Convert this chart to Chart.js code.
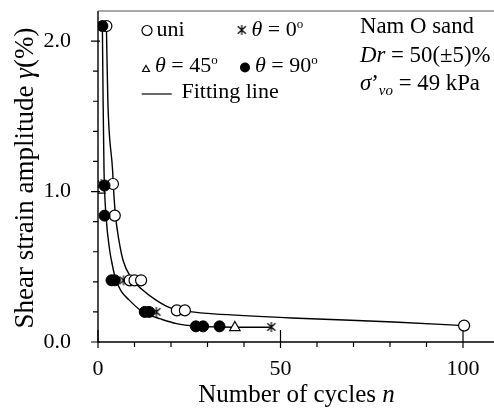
<!DOCTYPE html>
<html><head><meta charset="utf-8">
<script src="https://cdn.jsdelivr.net/npm/chart.js@4"></script>
<style>html,body{margin:0;padding:0;background:#fff}#wrap{width:494px;height:409px;position:relative}</style>
</head><body><div id="wrap"><canvas id="c" width="494" height="409"></canvas></div>
<script>
// ---- data ----
const uniN   = [2.3, 4.1, 4.6, 8.7, 10.0, 11.8, 21.6, 23.8, 100.3];
const uniG   = [2.10, 1.05, 0.84, 0.41, 0.41, 0.41, 0.21, 0.21, 0.109];
const th0N   = [0.9, 7.0, 16.0, 47.5];
const th0G   = [1.05, 0.41, 0.20, 0.10];
const th45N  = [0.5, 37.5];
const th45G  = [1.01, 0.096];
const th90N  = [1.2, 1.8, 1.8, 3.7, 4.6, 12.8, 14.0, 26.8, 28.8, 33.3];
const th90G  = [2.10, 1.04, 0.84, 0.41, 0.41, 0.20, 0.20, 0.104, 0.104, 0.104];
const fitUpN = [2.3, 2.7, 4.0, 4.3, 4.8, 5.7, 6.9, 9, 12, 16, 20, 24, 30, 53, 81, 100.3];
const fitUpG = [2.10, 1.6, 1.14, 1.0, 0.84, 0.68, 0.54, 0.43, 0.35, 0.277, 0.225, 0.205, 0.19, 0.16, 0.133, 0.109];
const fitLoN = [1.2, 1.4, 1.65, 2.2, 3.2, 3.7, 4.8, 6.3, 8.5, 11.4, 14, 16.9, 21.5, 27, 33, 47.5];
const fitLoG = [2.10, 1.6, 1.14, 0.84, 0.61, 0.54, 0.42, 0.34, 0.28, 0.215, 0.18, 0.155, 0.122, 0.105, 0.10, 0.098];
const xTickValues = [0, 10, 20, 30, 40, 50, 60, 70, 80, 90, 100];
const xMajorLabels = [0, 50, 100];
const yTickValues = [0, 0.2, 0.4, 0.6, 0.8, 1.0, 1.2, 1.4, 1.6, 1.8, 2.0];
const yMajorLabels = [0, 1, 2];

const pts = (xs, ys) => xs.map((x, i) => ({x, y: ys[i]}));
const FONT = '"Liberation Serif", "Times New Roman", serif';
const S = 22;
const ST = 25;

// asterisk marker
function makeStar(sz) {
  const c = document.createElement('canvas');
  c.width = sz; c.height = sz;
  const g = c.getContext('2d');
  g.strokeStyle = '#000'; g.lineWidth = 1.2;
  const m = sz / 2, r = sz / 2 - 1;
  g.beginPath();
  g.moveTo(m, m - r); g.lineTo(m, m + r);
  g.moveTo(m - r * 0.8, m - r * 0.75); g.lineTo(m + r * 0.8, m + r * 0.75);
  g.moveTo(m + r * 0.8, m - r * 0.75); g.lineTo(m - r * 0.8, m + r * 0.75);
  g.stroke();
  return c;
}
const starImg = makeStar(12);

function rich(ctx, x, y, segs, align, base) {
  const B = base || S;
  let total = 0;
  segs.forEach(s => { ctx.font = (s.i ? 'italic ' : '') + (s.s || B) + 'px ' + FONT; s.w = ctx.measureText(s.t).width; total += s.w; });
  let cx = align === 'center' ? x - total / 2 : x;
  ctx.textAlign = 'left'; ctx.textBaseline = 'alphabetic';
  segs.forEach(s => { ctx.font = (s.i ? 'italic ' : '') + (s.s || B) + 'px ' + FONT; ctx.fillText(s.t, cx, y + (s.dy || 0)); cx += s.w; });
}

const deco = {
  id: 'deco',
  afterDraw(chart) {
    const ctx = chart.ctx, ca = chart.chartArea;
    const xs = chart.scales.x, ys = chart.scales.y;
    const R = chart.width;
    ctx.save();
    ctx.fillStyle = '#000';
    // frame
    ctx.strokeStyle = '#000'; ctx.lineWidth = 1.4;
    ctx.beginPath();
    ctx.moveTo(ca.left, ca.top); ctx.lineTo(ca.left, ca.bottom); ctx.lineTo(R, ca.bottom);
    ctx.stroke();
    ctx.strokeStyle = '#555'; ctx.lineWidth = 1.2;
    ctx.beginPath(); ctx.moveTo(ca.left, ca.top); ctx.lineTo(R, ca.top); ctx.stroke();
    // ticks
    ctx.strokeStyle = '#000'; ctx.lineWidth = 1.2;
    ctx.beginPath();
    xs.ticks.forEach(t => {
      const v = t.value;
      const p = xs.getPixelForValue(v);
      if (Math.abs(v / 50 - Math.round(v / 50)) < 1e-6) { ctx.moveTo(p, ca.bottom - 12); ctx.lineTo(p, ca.bottom + 6); }
      else { ctx.moveTo(p, ca.bottom); ctx.lineTo(p, ca.bottom + 5); }
    });
    ys.ticks.forEach(t => {
      const v = t.value;
      const p = ys.getPixelForValue(v);
      if (Math.abs(v - Math.round(v)) < 1e-6) { ctx.moveTo(ca.left - 7, p); ctx.lineTo(ca.left + 2, p); }
      else { ctx.moveTo(ca.left - 5, p); ctx.lineTo(ca.left, p); }
    });
    ctx.stroke();
    // axis titles
    rich(ctx, 296.5, 401.5, [{t: 'Number of cycles '}, {t: 'n', i: true}], 'center', ST);
    ctx.save();
    ctx.translate(32.5, 178); ctx.rotate(-Math.PI / 2);
    rich(ctx, 0, 0, [{t: 'Shear strain amplitude '}, {t: 'γ', i: true}, {t: '(%)'}], 'center', 27);
    ctx.restore();
    // legend
    ctx.lineWidth = 1.2; ctx.strokeStyle = '#000';
    ctx.beginPath(); ctx.arc(147, 30.5, 5, 0, Math.PI * 2); ctx.fillStyle = '#fff'; ctx.fill(); ctx.stroke();
    ctx.fillStyle = '#000';
    rich(ctx, 156.5, 36, [{t: 'uni'}]);
    ctx.drawImage(starImg, 241.7 - 6, 30 - 6);
    rich(ctx, 251.5, 36, [{t: 'θ', i: true}, {t: ' = 0'}, {t: 'o', s: 13, dy: -8}]);
    ctx.beginPath(); ctx.moveTo(146, 65.5); ctx.lineTo(149.5, 71.5); ctx.lineTo(142.5, 71.5); ctx.closePath(); ctx.stroke();
    rich(ctx, 155, 72, [{t: 'θ', i: true}, {t: ' = 45'}, {t: 'o', s: 13, dy: -8}]);
    ctx.beginPath(); ctx.arc(245, 67.5, 5, 0, Math.PI * 2); ctx.fill();
    rich(ctx, 255, 72, [{t: 'θ', i: true}, {t: ' = 90'}, {t: 'o', s: 13, dy: -8}]);
    ctx.beginPath(); ctx.moveTo(141.7, 94); ctx.lineTo(171.7, 94); ctx.stroke();
    rich(ctx, 181.5, 98, [{t: 'Fitting line'}]);
    // annotation
    rich(ctx, 360, 33, [{t: 'Nam O sand'}], 'left', 22.8);
    rich(ctx, 360, 62, [{t: 'Dr', i: true}, {t: ' = 50(±5)%'}], 'left', 22.8);
    rich(ctx, 360, 90, [{t: 'σ', i: true}, {t: '’'}, {t: 'vo', i: true, s: 15, dy: 5}, {t: ' = 49 kPa'}], 'left', 22.8);
    ctx.restore();
  }
};

const lineDs = (xs, ys) => ({data: pts(xs, ys), showLine: true, pointRadius: 0, borderColor: '#000', borderWidth: 1.4,
  cubicInterpolationMode: 'monotone', fill: false, order: 10});

new Chart(document.getElementById('c'), {
  type: 'scatter',
  data: {datasets: [
    lineDs(fitUpN, fitUpG),
    lineDs(fitLoN, fitLoG),
    {data: pts(th45N, th45G), pointStyle: 'triangle', pointRadius: 6, borderColor: '#000', backgroundColor: '#fff', borderWidth: 1.2, order: 4},
    {data: pts(th0N, th0G), pointStyle: starImg, pointRadius: 6, borderColor: '#000', order: 3},
    {data: pts(uniN, uniG), pointStyle: 'circle', pointRadius: 5.5, borderColor: '#000', backgroundColor: '#fff', borderWidth: 1.2, order: 2},
    {data: pts(th90N, th90G), pointStyle: 'circle', pointRadius: 5.5, borderColor: '#000', backgroundColor: '#000', borderWidth: 1, order: 1}
  ]},
  options: {
    responsive: false, animation: false, devicePixelRatio: 1,
    layout: {padding: {top: 11, right: 0, left: 0, bottom: 0}},
    plugins: {legend: {display: false}, tooltip: {enabled: false}},
    scales: {
      x: {type: 'linear', min: 0, max: 108.5,
        afterBuildTicks: s => {
          s.ticks = xTickValues.map(v => ({value: v}));
          if (s.width > 0) s.max = 100 * s.width / 365;
        },
        afterFit: s => { s.height = 67; s.paddingLeft = 0; s.paddingRight = 0; },
        grid: {display: false, drawTicks: false}, border: {display: false},
        ticks: {autoSkip: false, maxRotation: 0, padding: 14, color: '#000', font: {family: FONT, size: S},
          callback: v => xMajorLabels.includes(v) ? String(v) : ''}},
      y: {type: 'linear', min: 0, max: 2.2,
        afterBuildTicks: s => { s.ticks = yTickValues.map(v => ({value: v})); },
        afterFit: s => { s.width = 98; s.paddingTop = 0; s.paddingBottom = 0; },
        grid: {display: false, drawTicks: false}, border: {display: false},
        ticks: {autoSkip: false, padding: 27, color: '#000', font: {family: FONT, size: S},
          callback: v => { const r = Math.round(v); return (Math.abs(v - r) < 1e-6 && yMajorLabels.includes(r)) ? r.toFixed(1) : ''; }}}
    }
  },
  plugins: [deco]
});
</script></body></html>
